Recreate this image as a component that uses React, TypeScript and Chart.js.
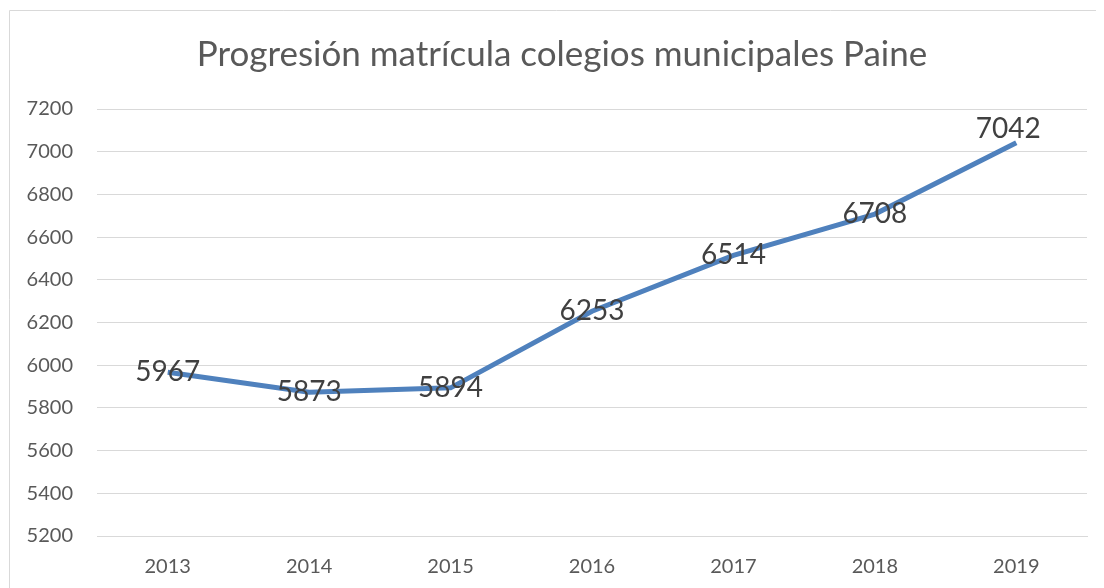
import React, { useEffect, useRef } from "react";
import { Chart, registerables } from "chart.js";

Chart.register(...registerables);

const title = "Progresión matrícula colegios municipales Paine";
const years = ["2013", "2014", "2015", "2016", "2017", "2018", "2019"];
const matricula = [5967, 5873, 5894, 6253, 6514, 6708, 7042];
const yMin = 5200;
const yMax = 7200;
const yStep = 200;

const FONT = "Lato, 'Open Sans', sans-serif";

const framePlugin = {
  id: "frame",
  beforeDraw(chart: any) {
    const ctx = chart.ctx;
    ctx.save();
    ctx.strokeStyle = "#d9d9d9";
    ctx.lineWidth = 1;
    ctx.beginPath();
    ctx.moveTo(1.5, chart.height);
    ctx.lineTo(1.5, 2.5);
    ctx.lineTo(chart.width, 2.5);
    ctx.stroke();
    ctx.restore();
  },
  afterDraw(chart: any) {
    const ctx = chart.ctx;
    ctx.save();
    ctx.fillStyle = "#595959";
    ctx.font = `35px ${FONT}`;
    ctx.textAlign = "center";
    ctx.textBaseline = "middle";
    ctx.fillText(title, chart.width / 2 + 6, 47);
    // data labels
    const meta = chart.getDatasetMeta(0);
    ctx.fillStyle = "#404040";
    ctx.font = `28px ${FONT}`;
    meta.data.forEach((pt: any, i: number) => {
      const v = chart.data.datasets[0].data[i];
      const last = i === meta.data.length - 1;
      ctx.fillText(String(v), pt.x - (last ? 8 : 0), pt.y + (last ? -14 : 0));
    });
    ctx.restore();
  },
};

export default function App() {
  const ref = useRef<HTMLCanvasElement>(null);
  useEffect(() => {
    document.body.style.overflow = "hidden";
    const chart = new Chart(ref.current!, {
      type: "line",
      data: {
        labels: years,
        datasets: [
          {
            data: matricula,
            borderColor: "#4f81bd",
            borderWidth: 5,
            pointRadius: 0,
            tension: 0,
            fill: false,
          },
        ],
      },
      options: {
        animation: false,
        responsive: false,
        layout: { padding: { top: 101, right: 17, bottom: 0, left: 0 } },
        plugins: { legend: { display: false }, title: { display: false }, tooltip: { enabled: false } },
        scales: {
          x: {
            offset: true,
            grid: { display: false, drawTicks: false },
            border: { display: true, color: "#d9d9d9", width: 1 },
            ticks: { color: "#595959", font: { family: FONT, size: 20 }, padding: 19 },
            afterFit: (s: any) => { s.height = 52; },
          },
          y: {
            min: yMin,
            max: yMax,
            ticks: {
              stepSize: yStep,
              color: "#595959",
              font: { family: FONT, size: 20 },
              padding: 24,
              callback: (v: any) => String(v),
            },
            grid: { color: "#d9d9d9", lineWidth: 1, drawTicks: false },
            border: { display: false },
            afterFit: (s: any) => { s.width = 89; },
          },
        },
      },
      plugins: [framePlugin],
    });
    return () => chart.destroy();
  }, []);
  return (
    <div style={{ width: 1096, height: 580 }}>
      <canvas ref={ref} width={1096} height={580} style={{ display: "block" }} />
    </div>
  );
}
